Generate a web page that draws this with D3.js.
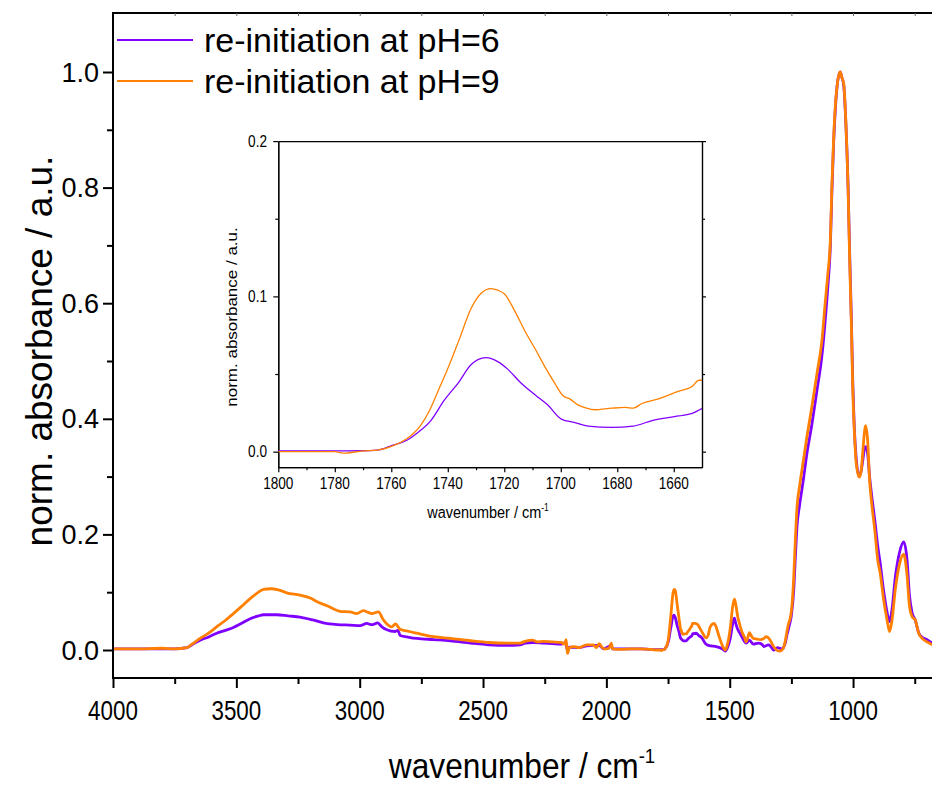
<!DOCTYPE html>
<html>
<head>
<meta charset="utf-8">
<script src="https://cdn.jsdelivr.net/npm/d3@7"></script>
<style>
  body { margin: 0; background: #fff; }
  svg text { font-family: "Liberation Sans", Arial, sans-serif; fill: #000; }
</style>
</head>
<body>
<div id="chart"></div>
<script>
// legend entries and colours
const seriesNames = ["re-initiation at pH=6", "re-initiation at pH=9"]
const seriesColors = ["#8000ff", "#ff8000"]

// tick values
const mainXTicks = [4000, 3500, 3000, 2500, 2000, 1500, 1000]
const mainXMinor = [3750, 3250, 2750, 2250, 1750, 1250, 750]
const mainYTicks = [0, 0.2, 0.4, 0.6, 0.8, 1.0]
const mainYMinor = [0.1, 0.3, 0.5, 0.7, 0.9]
const insetXTicks = [1800, 1780, 1760, 1740, 1720, 1700, 1680, 1660]
const insetXMinor = [1790, 1770, 1750, 1730, 1710, 1690, 1670]
const insetYTicks = [0, 0.1, 0.2]
const insetYMinor = [0.05, 0.15]

// spectrum, pH 6  [wavenumber, absorbance]
const spectrumPH6 = [
  [4000,0.002],[3900,0.002],[3800,0.002],[3750,0.002],[3700,0.004],[3680,0.009],[3647,0.017],[3610,0.023],
  [3580,0.029],[3545,0.034],[3512,0.039],[3480,0.046],[3444,0.054],[3410,0.059],[3390,0.061],[3336,0.061],
  [3290,0.059],[3242,0.057],[3190,0.052],[3147,0.047],[3090,0.044],[3039,0.043],[2998,0.042],[2971,0.046],
  [2955,0.044],[2948,0.044],[2927,0.047],[2910,0.040],[2890,0.035],[2856,0.032],[2845,0.034],[2836,0.025],
  [2800,0.022],[2768,0.020],[2700,0.018],[2633,0.016],[2550,0.012],[2475,0.009],[2400,0.008],[2350,0.009],
  [2329,0.012],[2300,0.013],[2256,0.012],[2220,0.011],[2183,0.010],[2165,0.013],[2158,0.000],[2150,0.005],
  [2112,0.004],[2080,0.007],[2054,0.008],[2030,0.008],[2011,0.002],[1980,0.008],[1975,0.002],[1940,0.002],
  [1900,0.002],[1860,0.002],[1822,0.001],
  [1800,0.0005],[1790,0.0005],[1780,0.0005],[1770,0.0006],[1765,0.001],[1759.7,0.004],[1754.3,0.0075],
  [1750.8,0.012],[1746,0.020],[1741.3,0.033],[1736,0.045],[1731.8,0.056],[1726.5,0.0605],[1722.3,0.058],
  [1718.7,0.053],[1714,0.044],[1708.7,0.036],[1704.6,0.030],[1699.8,0.021],[1695,0.0187],[1690.3,0.0165],
  [1682,0.0157],[1674.3,0.0165],[1667.7,0.020],[1658.2,0.023],[1653.5,0.0247],[1649.3,0.0285],
  [1636,0.029],[1625,0.025],[1613,0.021],[1600,0.012],[1592,0.009],[1575,0.007],[1555,0.006],[1530,0.002],
  [1518,-0.002],[1508,0.005],[1498,0.020],[1488,0.045],[1481,0.055],[1475,0.045],[1469,0.037],[1460,0.030],
  [1451,0.023],[1433,0.012],[1420,0.017],[1404,0.010],[1384,0.012],[1370,0.010],[1361,0.006],[1343,0.009],
  [1330,0.004],[1322,0.000],[1306,0.004],[1289,0.002],[1275,0.012],[1268,0.026],[1260,0.040],[1250,0.060],
  [1241,0.100],[1234,0.160],[1227,0.215],[1217,0.250],[1203,0.290],[1187,0.340],[1167,0.390],[1146,0.450],
  [1126,0.510],[1113,0.570],[1102,0.630],[1092,0.700],[1086,0.790],[1079,0.875],[1072,0.935],[1062,0.985],
  [1052,1.000],[1045,0.990],[1038,0.978],[1029,0.910],[1020,0.800],[1014,0.690],[1007,0.575],[1001,0.460],
  [995,0.385],[987,0.330],[975,0.300],[967,0.310],[960,0.330],[953,0.350],[949,0.352],[941,0.340],
  [933,0.300],[923,0.262],[912,0.225],[900,0.180],[890,0.150],[876,0.102],[862,0.065],[852,0.049],
  [842,0.070],[829,0.125],[811,0.170],[795,0.187],[782,0.160],[771,0.093],[761,0.065],[748,0.052],
  [734,0.030],[720,0.022],[700,0.018],[679,0.012]
]

// spectrum, pH 9
const spectrumPH9 = [
  [4000,0.002],[3900,0.002],[3800,0.003],[3750,0.002],[3700,0.004],[3680,0.010],[3647,0.020],[3610,0.030],
  [3580,0.040],[3545,0.051],[3512,0.063],[3480,0.075],[3444,0.089],[3410,0.100],[3390,0.105],[3360,0.106],
  [3330,0.104],[3296,0.099],[3242,0.095],[3200,0.090],[3174,0.084],[3130,0.076],[3080,0.067],[3039,0.066],
  [3012,0.063],[2985,0.068],[2965,0.065],[2951,0.063],[2924,0.066],[2904,0.052],[2870,0.040],[2855,0.045],
  [2836,0.036],[2800,0.032],[2768,0.029],[2701,0.023],[2633,0.020],[2550,0.016],[2475,0.013],[2400,0.012],
  [2350,0.012],[2330,0.015],[2300,0.017],[2280,0.014],[2256,0.015],[2220,0.014],[2183,0.013],[2170,0.010],
  [2163,0.018],[2158,-0.006],[2150,0.004],[2130,0.006],[2112,0.004],[2080,0.009],[2054,0.009],[2040,0.004],
  [2030,0.011],[2011,0.002],[1990,0.003],[1980,0.012],[1975,0.002],[1940,0.001],[1900,0.002],[1860,0.002],
  [1822,0.001],
  [1800,0.000],[1790,0.000],[1780,0.000],[1777,-0.001],[1770,0.0005],[1765,0.001],[1759.7,0.0036],
  [1754.3,0.0086],[1752,0.012],[1749.6,0.017],[1746.6,0.026],[1743.7,0.038],[1740.1,0.053],[1736,0.072],
  [1731.8,0.092],[1728.2,0.102],[1724.7,0.105],[1722.3,0.104],[1719.9,0.1015],[1716.4,0.091],[1712.8,0.078],
  [1708.7,0.065],[1705.1,0.053],[1702.1,0.044],[1699.2,0.036],[1696.8,0.034],[1693.8,0.030],[1690.9,0.028],
  [1687.9,0.027],[1682,0.028],[1677.2,0.0285],[1674.3,0.028],[1671.3,0.031],[1665.4,0.034],[1658.2,0.039],
  [1653.5,0.042],[1651.1,0.046],[1649.3,0.046],
  [1640,0.046],[1630,0.044],[1620,0.037],[1608,0.028],[1597,0.021],[1588,0.025],[1579,0.040],[1563,0.046],
  [1555,0.040],[1545,0.026],[1530,0.008],[1518,0.000],[1508,0.012],[1498,0.037],[1488,0.075],[1481,0.088],
  [1475,0.078],[1469,0.061],[1460,0.045],[1451,0.032],[1440,0.022],[1433,0.014],[1420,0.030],[1412,0.024],
  [1404,0.020],[1390,0.019],[1376,0.018],[1362,0.020],[1352,0.023],[1336,0.017],[1325,0.008],[1315,0.002],
  [1298,-0.002],[1284,0.002],[1275,0.015],[1268,0.032],[1262,0.045],[1255,0.055],[1248,0.075],[1241,0.121],
  [1234,0.190],[1227,0.248],[1217,0.283],[1203,0.323],[1187,0.369],[1167,0.421],[1146,0.479],[1126,0.536],
  [1113,0.600],[1102,0.652],[1092,0.709],[1086,0.800],[1079,0.882],[1072,0.940],[1062,0.985],[1052,1.000],
  [1045,0.990],[1038,0.980],[1029,0.911],[1020,0.796],[1014,0.680],[1007,0.565],[1001,0.450],[995,0.381],
  [987,0.323],[975,0.299],[967,0.310],[960,0.346],[953,0.380],[949,0.388],[941,0.363],[933,0.294],
  [923,0.248],[912,0.208],[900,0.156],[890,0.133],[876,0.087],[862,0.052],[852,0.032],[842,0.052],
  [829,0.104],[811,0.150],[795,0.166],[782,0.133],[771,0.075],[761,0.058],[748,0.052],[734,0.029],
  [720,0.020],[700,0.014],[679,0.009]
]

class SpectrumChart {

    constructor(parentElement){
        this.parentElement = parentElement
        this.series = [spectrumPH6, spectrumPH9]
        this.initVis()
    }

    // text squeezed horizontally like the exported figure
    addText(g, x, y, txt, size, sx, anchor, rotate){
        let t = g.append("text")
            .attr("transform", `translate(${x},${y}) scale(${sx},1)` + (rotate ? " rotate(-90)" : ""))
            .attr("text-anchor", anchor)
            .style("font-size", size + "px")
        t.append("tspan").text(txt)
        return t
    }

    styleAxis(g, width){
        g.selectAll("path, line").attr("stroke", "#000").attr("stroke-width", width)
    }

    initVis(){
        let vis = this

        vis.width = 932
        vis.height = 787

        vis.svg = d3.select("#" + vis.parentElement).append("svg")
            .attr("width", vis.width)
            .attr("height", vis.height)

        // main plot area
        vis.x = d3.scaleLinear().domain([4000, 680]).range([113, 932])
        vis.y = d3.scaleLinear().domain([-0.05, 1.1]).range([678.9, 14.2])

        vis.svg.append("clipPath").attr("id", "clip-main")
            .append("rect").attr("x", 113).attr("y", 13).attr("width", 819).attr("height", 666)

        let line = d3.line()
            .x(d => vis.x(d[0]))
            .y(d => vis.y(d[1]))
            .curve(d3.curveMonotoneX)

        vis.svg.append("g").attr("clip-path", "url(#clip-main)")
            .selectAll("path").data(vis.series).join("path")
            .attr("d", line)
            .attr("fill", "none")
            .attr("stroke", (d, i) => seriesColors[i])
            .attr("stroke-width", 2.8)
            .attr("stroke-linejoin", "round")

        // axes
        let xAxis = vis.svg.append("g").attr("transform", "translate(0,678)")
        xAxis.call(d3.axisBottom(vis.x).tickValues(mainXTicks).tickSize(10).tickSizeOuter(0).tickFormat(""))
        xAxis.append("g").call(d3.axisBottom(vis.x).tickValues(mainXMinor).tickSize(6).tickSizeOuter(0).tickFormat(""))
        vis.styleAxis(xAxis, 2)
        xAxis.selectAll(".domain").attr("d", "M112,0H932")

        let topAxis = vis.svg.append("g").attr("transform", "translate(0,13)")
        topAxis.call(d3.axisTop(vis.x).tickValues(mainXTicks.concat(mainXMinor)).tickSize(-3).tickSizeOuter(0).tickFormat(""))
        topAxis.selectAll("line").attr("stroke", "#666").attr("stroke-width", 1)
        topAxis.select(".domain").attr("d", "M112,0H932").attr("stroke", "#000").attr("stroke-width", 2)

        let yAxis = vis.svg.append("g").attr("transform", "translate(113,0)")
        yAxis.call(d3.axisLeft(vis.y).tickValues(mainYTicks).tickSize(10).tickSizeOuter(0).tickFormat(""))
        yAxis.append("g").call(d3.axisLeft(vis.y).tickValues(mainYMinor).tickSize(6).tickSizeOuter(0).tickFormat(""))
        vis.styleAxis(yAxis, 2)
        yAxis.selectAll(".domain").attr("d", "M0,12V679")

        // tick labels
        mainXTicks.forEach(v => vis.addText(vis.svg, vis.x(v), 720, v, 28, 0.8, "middle"))
        mainYTicks.forEach(v => vis.addText(vis.svg, 99, vis.y(v) + 9.5, d3.format(".1f")(v), 27, 1, "end"))

        // axis titles
        let xt = vis.addText(vis.svg, 522, 778, "wavenumber / cm", 36, 0.88, "middle")
        xt.append("tspan").attr("dy", -15).style("font-size", "21px").text("-1")
        vis.addText(vis.svg, 52, 351, "norm. absorbance / a.u.", 37, 1, "middle", true)

        // legend
        let legend = vis.svg.append("g")
        seriesNames.forEach((name, i) => {
            let ly = 40 + i * 41
            legend.append("line").attr("x1", 117).attr("x2", 193).attr("y1", ly).attr("y2", ly)
                .attr("stroke", seriesColors[i]).attr("stroke-width", 2.2)
            vis.addText(legend, 204, ly + 12, name, 34, 1, "start")
        })

        vis.initInset()
    }

    initInset(){
        let vis = this

        vis.ix = d3.scaleLinear().domain([1800, 1650]).range([278.3, 702])
        vis.iy = d3.scaleLinear().domain([-0.01, 0.2]).range([467.2, 141.1])

        let g = vis.svg.append("g")
        g.append("rect").attr("x", 278.3).attr("y", 141.1).attr("width", 702 - 278.3).attr("height", 467.2 - 141.1)
            .attr("fill", "#fff")

        g.append("clipPath").attr("id", "clip-inset")
            .append("rect").attr("x", 278.3).attr("y", 141.1).attr("width", 702 - 278.3).attr("height", 467.2 - 141.1)

        // inset axes
        let bx = g.append("g").attr("transform", "translate(0,467.2)")
        bx.call(d3.axisBottom(vis.ix).tickValues(insetXTicks).tickSize(5).tickSizeOuter(0).tickFormat(""))
        bx.append("g").call(d3.axisBottom(vis.ix).tickValues(insetXMinor).tickSize(3).tickSizeOuter(0).tickFormat(""))

        let tx = g.append("g").attr("transform", "translate(0,141.1)")
        tx.call(d3.axisTop(vis.ix).tickValues([]).tickSizeOuter(0))

        let ly = g.append("g").attr("transform", "translate(278.3,0)")
        ly.call(d3.axisLeft(vis.iy).tickValues(insetYTicks).tickSize(5).tickSizeOuter(0).tickFormat(""))
        ly.append("g").call(d3.axisLeft(vis.iy).tickValues(insetYMinor).tickSize(3).tickSizeOuter(0).tickFormat(""))

        let ry = g.append("g").attr("transform", "translate(702,0)")
        ry.call(d3.axisRight(vis.iy).tickValues(insetYTicks).tickSize(4).tickSizeOuter(0).tickFormat(""))
        ry.append("g").call(d3.axisRight(vis.iy).tickValues(insetYMinor).tickSize(3).tickSizeOuter(0).tickFormat(""))

        ;[bx, tx, ly, ry].forEach(a => vis.styleAxis(a, 1.2))

        let line = d3.line()
            .x(d => vis.ix(d[0]))
            .y(d => vis.iy(d[1]))
            .curve(d3.curveMonotoneX)

        g.append("g").attr("clip-path", "url(#clip-inset)")
            .selectAll("path").data(vis.series.map(s => s.filter(d => d[0] <= 1802 && d[0] >= 1640))).join("path")
            .attr("d", line)
            .attr("fill", "none")
            .attr("stroke", (d, i) => seriesColors[i])
            .attr("stroke-width", 1.3)

        insetXTicks.forEach(v => vis.addText(g, vis.ix(v), 489, v, 16, 0.85, "middle"))
        insetYTicks.forEach(v => vis.addText(g, 267, vis.iy(v) + 5.5, d3.format(".1f")(v), 16, 0.85, "end"))

        let xt = vis.addText(g, 488, 518, "wavenumber / cm", 17, 0.85, "middle")
        xt.append("tspan").attr("dy", -7).style("font-size", "10px").text("-1")
        vis.addText(g, 237, 317, "norm. absorbance / a.u.", 17, 0.85, "middle", true)
    }
}

new SpectrumChart("chart")
</script>
</body>
</html>
